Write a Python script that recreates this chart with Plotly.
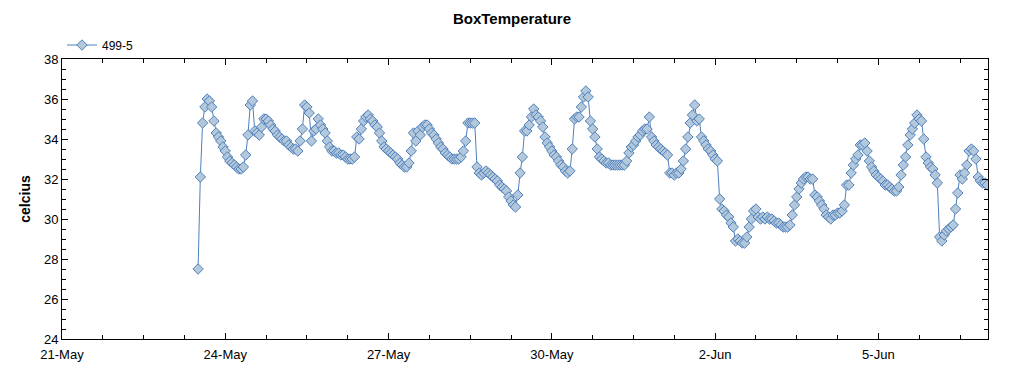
import plotly.graph_objects as go
import pandas as pd

series_name = "499-5"
start_time = "2013-05-23 12:00"
temps = [
    27.5, 32.1, 34.8, 35.6, 36.0, 35.9, 35.6, 34.9, 34.3, 34.1,
    33.9, 33.6, 33.4, 33.1, 32.9, 32.8, 32.7, 32.6, 32.5, 32.5,
    32.6, 33.2, 34.2, 35.7, 35.9, 34.4, 34.3, 34.2, 34.6, 35.0,
    35.0, 34.9, 34.7, 34.5, 34.4, 34.2, 34.1, 34.0, 33.9, 33.9,
    33.7, 33.6, 33.5, 33.5, 33.4, 33.9, 34.5, 35.7, 35.6, 35.3,
    33.9, 34.4, 34.5, 35.0, 34.7, 34.5, 34.3, 33.9, 33.6, 33.4,
    33.4, 33.3, 33.3, 33.2, 33.2, 33.1, 33.0, 33.0, 33.0, 33.1,
    34.1, 34.0, 34.5, 34.9, 35.1, 35.2, 35.0, 34.9, 34.7, 34.6,
    34.3, 33.9, 33.6, 33.5, 33.4, 33.3, 33.2, 33.1, 33.0, 32.8,
    32.7, 32.6, 32.6, 32.8, 33.4, 34.3, 33.9, 34.4, 34.2, 34.6,
    34.7, 34.7, 34.5, 34.3, 34.2, 34.0, 33.8, 33.6, 33.5, 33.3,
    33.2, 33.1, 33.0, 33.0, 33.0, 33.0, 33.1, 33.4, 33.9, 34.8,
    34.8, 34.8, 34.8, 32.6, 32.3, 32.2, 32.3, 32.4, 32.3, 32.2,
    32.1, 32.0, 31.9, 31.7, 31.6, 31.5, 31.4, 31.1, 30.9, 30.7,
    30.6, 31.2, 32.3, 33.1, 34.4, 34.4, 34.7, 35.1, 35.5, 35.2,
    35.1, 34.9, 34.6, 34.1, 33.8, 33.6, 33.4, 33.2, 33.1, 32.9,
    32.7, 32.6, 32.4, 32.3, 32.4, 33.5, 35.0, 35.1, 35.1, 35.6,
    36.1, 36.4, 36.1, 34.9, 34.5, 34.1, 33.5, 33.1, 33.0, 32.9,
    32.8, 32.8, 32.7, 32.7, 32.7, 32.7, 32.7, 32.7, 32.7, 32.9,
    33.3, 33.6, 33.7, 33.9, 34.1, 34.2, 34.4, 34.5, 34.5, 35.1,
    34.1, 33.9, 33.7, 33.6, 33.5, 33.4, 33.3, 33.2, 32.3, 32.3,
    32.2, 32.3, 32.3, 32.5, 32.9, 33.5, 34.1, 34.8, 35.2, 35.7,
    34.9, 35.0, 34.1, 33.9, 33.7, 33.5, 33.4, 33.2, 33.0, 32.9,
    31.0, 30.5, 30.4, 30.2, 30.1, 29.8, 29.6, 28.9, 29.0, 28.9,
    28.8, 28.8, 29.1, 29.6, 30.0, 30.4, 30.5, 30.1, 30.0, 30.1,
    30.0, 30.1, 30.0, 30.0, 29.9, 29.8, 29.8, 29.7, 29.6, 29.6,
    29.6, 29.7, 30.2, 30.7, 31.1, 31.5, 31.8, 32.0, 32.1, 32.1,
    32.0, 32.0, 31.2, 31.1, 30.9, 30.7, 30.5, 30.2, 30.1, 30.0,
    30.2, 30.2, 30.3, 30.3, 30.4, 30.7, 31.7, 31.7, 32.3, 32.7,
    33.0, 33.2, 33.7, 33.7, 33.8, 33.4, 32.9, 32.6, 32.4, 32.2,
    32.1, 32.0, 31.9, 31.7, 31.7, 31.6, 31.5, 31.4, 31.4, 31.6,
    32.2, 32.7, 33.1, 33.7, 34.2, 34.5, 34.8, 35.2, 35.0, 34.9,
    34.0, 33.1, 32.8, 32.6, 32.5, 32.2, 31.8, 29.1, 28.9, 29.2,
    29.4, 29.5, 29.6, 29.7, 30.5, 31.3, 32.2, 32.0, 32.3, 32.7,
    33.4, 33.5, 33.4, 33.0, 32.1, 31.9, 31.8, 31.8, 31.7,
]
times = pd.date_range(start_time, periods=len(temps), freq="h")

chart_title = "BoxTemperature"
y_title = "celcius"
x_range = ["2013-05-21 00:00", "2013-06-07 00:20"]
y_range = [24, 38]

FONT = "Liberation Sans, Arial, sans-serif"
LINE_BLUE = "#4f81bd"
FILL = "#b4c8dc"

fig = go.Figure()
fig.add_trace(go.Scatter(
    x=times, y=temps, name=series_name, mode="lines+markers",
    line=dict(color=LINE_BLUE, width=1),
    marker=dict(symbol="diamond", size=8, color=FILL,
                line=dict(color=LINE_BLUE, width=1)),
))

day_ms = 86400000
fig.update_layout(
    width=1024, height=375,
    margin=dict(l=62, r=36, t=59, b=36, autoexpand=False),
    paper_bgcolor="white", plot_bgcolor="white",
    font=dict(family=FONT, size=13, color="black"),
    title=dict(text="<b>" + chart_title + "</b>", x=0.5, xref="container",
               xanchor="center", y=1 - 19 / 375, yref="container",
               yanchor="middle", font=dict(size=15, family=FONT)),
    showlegend=True,
    legend=dict(x=0.0, y=1.05, xanchor="left", yanchor="middle",
                font=dict(size=12, family=FONT), bgcolor="rgba(0,0,0,0)",
                itemwidth=30),
    xaxis=dict(type="date", range=x_range, showgrid=False,
               showline=True, linecolor="black", linewidth=1,
               mirror="allticks", ticks="inside", ticklen=6, tickcolor="black",
               tick0="2013-05-21", dtick=3 * day_ms, tickformat="%-d-%b",
               ticklabelstandoff=3,
               minor=dict(dtick=18 * 3600000, tick0="2013-05-21", ticks="inside",
                          ticklen=4, tickcolor="black", showgrid=False),
               tickfont=dict(size=13), zeroline=False),
    yaxis=dict(range=y_range, showgrid=False, showline=True, linecolor="black",
               linewidth=1, mirror="allticks", ticks="inside", ticklen=6,
               tickcolor="black", dtick=2, tick0=24,
               minor=dict(dtick=0.5, ticks="inside", ticklen=4, tickcolor="black",
                          showgrid=False),
               title=dict(text="<b>" + y_title + "</b>", font=dict(size=14),
                          standoff=10),
               tickfont=dict(size=13), zeroline=False),
    xaxis2=dict(type="date", overlaying="x", matches="x", anchor="y",
                side="bottom", showgrid=False, showline=False, ticks="outside",
                ticklen=4, tickcolor="black", showticklabels=False,
                tick0="2013-05-21", dtick=3 * day_ms,
                minor=dict(dtick=18 * 3600000, tick0="2013-05-21",
                           ticks="outside", ticklen=2, tickcolor="black")),
    yaxis2=dict(overlaying="y", matches="y", anchor="x", side="left",
                showgrid=False, showline=False, ticks="outside", ticklen=4,
                tickcolor="black", showticklabels=False, dtick=2, tick0=24,
                minor=dict(dtick=0.5, ticks="outside", ticklen=3,
                           tickcolor="black")),
)

fig.write_html("out.html", config={"displayModeBar": False})

# remove the browser's default 8px body margin so the figure sits at (0, 0)
with open("out.html", encoding="utf-8") as f:
    html = f.read()
html = html.replace("<body>", '<body style="margin:0;padding:0;">', 1)
with open("out.html", "w", encoding="utf-8") as f:
    f.write(html)
